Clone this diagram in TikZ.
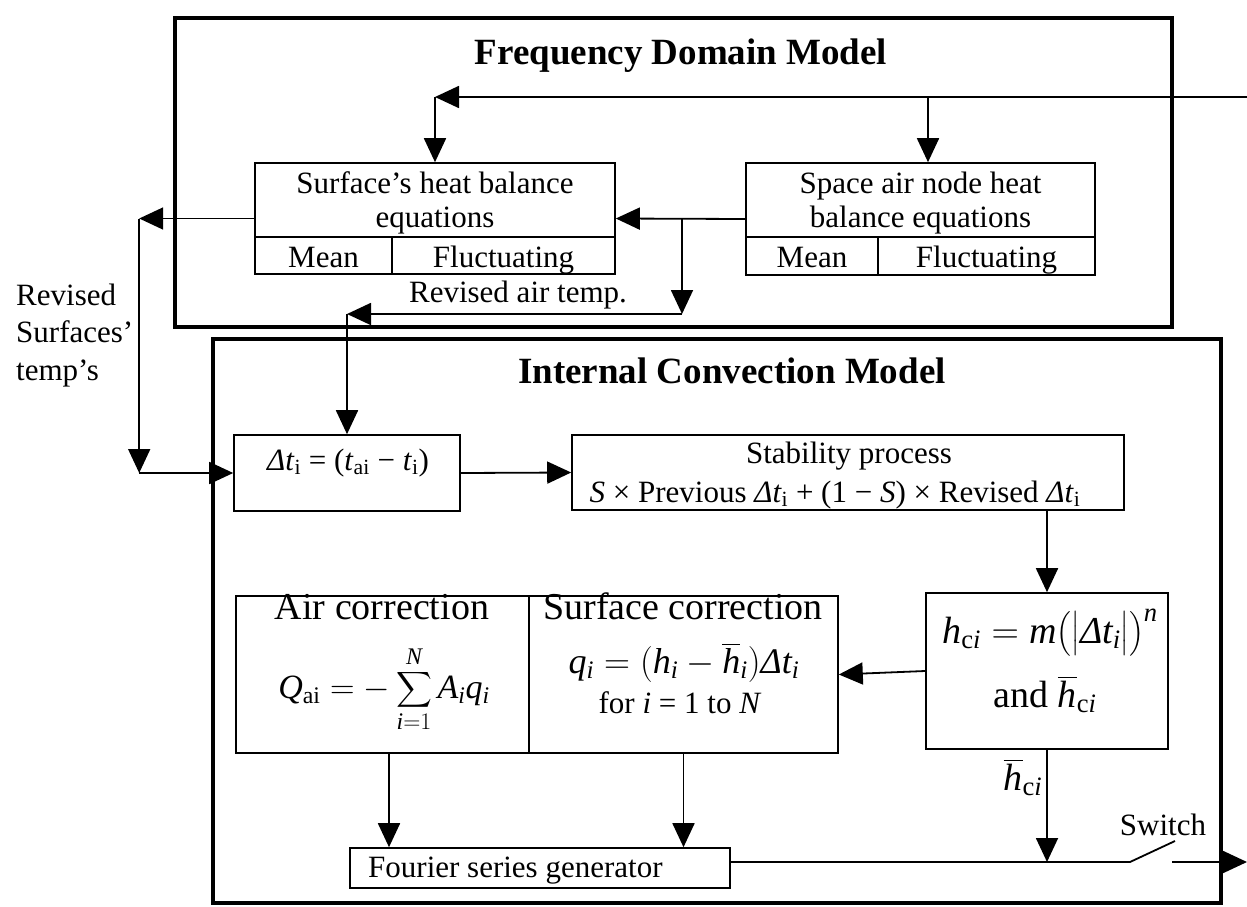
\RequirePackage{fix-cm}
\documentclass[tikz,border=0pt]{standalone}
\usepackage{amsmath}
\usepackage{fontspec}
\setmainfont{Liberation Serif}
\usetikzlibrary{arrows.meta}
\newcommand\fsz[2]{\fontsize{#1}{#2}\selectfont}
\tikzset{
  bigbox/.style={draw, line width=3.5pt, inner sep=0pt},
  box/.style={draw, line width=1.6pt, inner sep=0pt},
  thinline/.style={line width=1.6pt},
  plain/.style={line width=1.8pt},
  conn/.style={line width=1.8pt, -{Triangle[length=24pt,width=22pt]}},
  txt/.style={inner sep=0pt, anchor=base, font=\fsz{31}{34}},
  bigtxt/.style={inner sep=0pt, anchor=base, font=\fsz{38}{42}},
  eqtxt/.style={inner sep=0pt, anchor=base, font=\fsz{36}{40}},
  sumtxt/.style={inner sep=0pt, anchor=base, font=\fsz{34}{38}},
  title/.style={inner sep=0pt, anchor=base, font=\fsz{37}{40}\bfseries},
}
\begin{document}
\begin{tikzpicture}[x=1pt,y=-1pt]
\useasboundingbox (0,0) rectangle (1247,907);
% frames
\node[bigbox, minimum width=997, minimum height=309] (fdm) at (673.5,172.5) {};
\node[bigbox, minimum width=1008, minimum height=564] (icm) at (717,621) {};
\node[title] (fdmt) at (681,65) {Frequency Domain Model};
\node[title] (icmt) at (732,383) {Internal Convection Model};
% boxes
\node[box, minimum width=360, minimum height=111] (surf) at (435,218.5) {};
\node[box, minimum width=349, minimum height=112] (space) at (920.5,219) {};
\node[box, minimum width=226, minimum height=76] (delta) at (347,473) {};
\node[box, minimum width=552, minimum height=75] (stab) at (848,472.5) {};
\node[box, minimum width=242, minimum height=156] (hbox) at (1047,671) {};
\node[box, minimum width=293, minimum height=157] (air) at (382.5,674.5) {};
\node[box, minimum width=309, minimum height=157] (surfc) at (683.5,674.5) {};
\node[box, minimum width=380, minimum height=40] (four) at (540,868) {};
% dividers
\draw[thinline] (255,237) -- (615,237) (392,237) -- (392,274);
\draw[thinline] (746,237) -- (1095,237) (878,237) -- (878,275);
% texts in boxes
\node[txt] (s1) at (435,193) {Surface’s heat balance};
\node[txt] (s2) at (435,227) {equations};
\node[txt] (s3) at (323.5,267) {Mean};
\node[txt] (s4) at (503.5,267) {Fluctuating};
\node[txt] (a1) at (920.5,193) {Space air node heat};
\node[txt] (a2) at (920.5,227) {balance equations};
\node[txt] (a3) at (812,267) {Mean};
\node[txt] (a4) at (986.5,267) {Fluctuating};
\node[txt] (rat) at (518,302) {Revised air temp.};
\node[txt, anchor=base west] (rs1) at (16,305) {Revised};
\node[txt, anchor=base west] (rs2) at (16,342) {Surfaces’};
\node[txt, anchor=base west] (rs3) at (16,380) {temp’s};
\node[txt] (dt) at (348,470) {\textit{Δt}\textsubscript{i} = (\textit{t}\textsubscript{ai} − \textit{t}\textsubscript{i})};
\node[txt] (st1) at (849,463) {Stability process};
\node[txt] (st2) at (835,502) {\textit{S} × Previous \textit{Δt}\textsubscript{i} + (1 − \textit{S}) × Revised \textit{Δt}\textsubscript{i}};
\node[bigtxt] (h1) at (1050,643) {$\mathit{h}_{\mathrm{c}\mathit{i}} = \mathit{m}\bigl(\bigl|\textit{Δ}\mathit{t}_{\mathit{i}}\bigr|\bigr)^{\mathit{n}}$};
\node[bigtxt] (h2) at (1045,707) {and $\overline{\mathit{h}}_{\mathrm{c}\mathit{i}}$};
\node[bigtxt] (ac1) at (382,619) {Air correction};
\node[sumtxt] (ac2) at (384,698) {$\displaystyle \mathit{Q}_{\mathrm{ai}} = -\sum_{\mathit{i}=1}^{\mathit{N}} \mathit{A}_{\mathit{i}}\mathit{q}_{\mathit{i}}$};
\node[bigtxt] (sc1) at (683,619) {Surface correction};
\node[eqtxt] (sc2) at (684,673) {$\mathit{q}_{\mathit{i}} = (\mathit{h}_{\mathit{i}} - \overline{\mathit{h}}_{\mathit{i}})\textit{Δ}\mathit{t}_{\mathit{i}}$};
\node[txt] (sc3) at (680,713) {for \textit{i} = 1 to \textit{N}};
\node[txt, anchor=base west] (ft) at (368,877) {Fourier series generator};
\node[bigtxt] (hb) at (1023,790) {$\overline{\mathit{h}}_{\mathrm{c}\mathit{i}}$};
\node[txt] (swl) at (1163,835) {Switch};
% connectors
\coordinate (inR) at (1247,97);
\coordinate (jS) at (surf.north |- inR);
\coordinate (jA) at (928,97);
\draw[conn] (inR) -- (jS);
\draw[conn] (jS) -- (surf.north);
\draw[conn] (jA) -- (jA |- space.north);
\draw[conn] (space.west) -- (surf.east);
\coordinate (b1) at (682,219);
\coordinate (b2) at (682,314);
\coordinate (b3) at (delta.north |- b2);
\draw[conn] (b1) -- (b2);
\draw[conn] (b2) -- (b3);
\draw[conn] (b3) -- (delta.north);
\path (surf.west) ++(-115,0) coordinate (c1);
\coordinate (c2) at (c1 |- delta.west);
\draw[conn] (surf.west) -- (c1);
\draw[conn] (c1) -- (c2);
\draw[conn] (c2) -- (delta.west);
\draw[conn] (delta.east) -- (stab.west);
\draw[conn] (hbox.north |- stab.south) -- (hbox.north);
\draw[conn] (hbox.west) -- (surfc.east);
\draw[conn] ([xshift=6.5pt]air.south) -- ([xshift=6.5pt]air.south |- four.north);
\draw[conn] (surfc.south) -- (surfc.south |- four.north);
\coordinate (f1) at ([yshift=6pt]four.east);
\coordinate (sw1) at (1130,862);
\coordinate (sw2) at (1175,841);
\coordinate (sw3) at (1172,862);
\coordinate (out) at (1247,862);
\draw[plain] (f1) -- (sw1) -- (sw2);
\draw[conn] (sw3) -- (out);
\draw[conn] (hbox.south) -- (hbox.south |- sw1);
\end{tikzpicture}
\end{document}
